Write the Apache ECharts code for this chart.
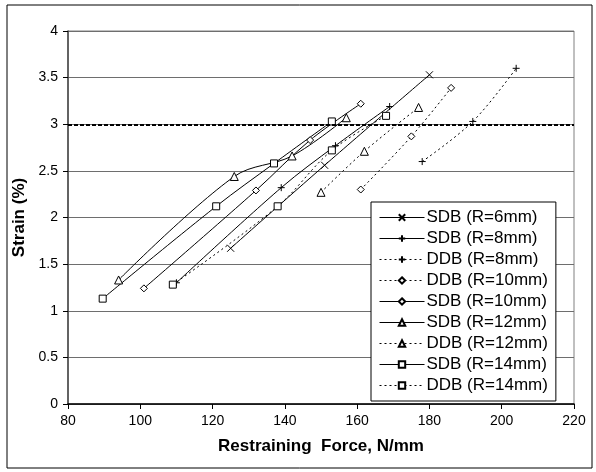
<!DOCTYPE html>
<html>
<head>
<meta charset="utf-8">
<script src="https://cdn.jsdelivr.net/npm/echarts@6/dist/echarts.min.js"></script>
<style>
  html, body { margin: 0; padding: 0; background: #fff; }
  #chart { width: 596px; height: 472px; }
</style>
</head>
<body>
<div id="chart"></div>
<script>
// [force N/mm, strain %]
const sdb6 = [[125, 1.67], [151, 2.56], [180, 3.53]];
const sdb8 = [[110, 1.30], [139, 2.32], [154, 2.77], [169, 3.19]];
const ddb8 = [[178, 2.60], [192, 3.03], [204, 3.60]];
const ddb10 = [[161, 2.30], [175, 2.87], [186, 3.39]];
const sdb10 = [[101, 1.24], [132, 2.29], [147, 2.83], [161, 3.22]];
const sdb12 = [[94, 1.33], [126, 2.44], [142, 2.66], [157, 3.07]];
const ddb12 = [[150, 2.27], [162, 2.71], [177, 3.18]];
const sdb14 = [[89.6, 1.13], [121, 2.12], [137, 2.58], [153, 3.03]];
const ddb14 = [[109, 1.28], [138, 2.12], [153, 2.72], [168, 3.09]];
const limitStrain = 3;

const CROSS = 'path://M0,0L10,10M0,10L10,0';
const PLUS = 'path://M5,0L5,10M0,5L10,5';
const FONT = 'Arial, "Liberation Sans", sans-serif';

function mk(name, data, symbol, dotted) {
  return {
    name: name,
    type: 'line',
    data: data,
    smooth: 0.35,
    symbol: symbol,
    symbolSize: symbol === 'triangle' ? 8 : 7,
    lineStyle: { color: '#000', width: 1, type: dotted ? [2, 3] : 'solid' },
    itemStyle: { color: '#fff', borderColor: '#000', borderWidth: 1 },
    emphasis: { disabled: true },
    z: 3
  };
}

const series = [
  mk('SDB (R=6mm)', sdb6, CROSS, false),
  mk('SDB (R=8mm)', sdb8, PLUS, false),
  mk('DDB (R=8mm)', ddb8, PLUS, true),
  mk('DDB (R=10mm)', ddb10, 'diamond', true),
  mk('SDB (R=10mm)', sdb10, 'diamond', false),
  mk('SDB (R=12mm)', sdb12, 'triangle', false),
  mk('DDB (R=12mm)', ddb12, 'triangle', true),
  mk('SDB (R=14mm)', sdb14, 'rect', false),
  mk('DDB (R=14mm)', ddb14, 'rect', true)
];

series[0].markLine = {
  silent: true,
  symbol: 'none',
  label: { show: false },
  lineStyle: { color: '#000', width: 2, type: [4, 2] },
  data: [{ yAxis: limitStrain }]
};

const chart = echarts.init(document.getElementById('chart'));
chart.setOption({
  animation: false,
  backgroundColor: '#fff',
  textStyle: { fontFamily: FONT },
  graphic: [{
    type: 'rect',
    shape: { x: 7, y: 5, width: 585, height: 463 },
    style: { fill: 'none', stroke: '#000', lineWidth: 1 },
    silent: true
  }],
  grid: { left: 68, right: 22, top: 31, bottom: 68, show: true, borderColor: '#808080', borderWidth: 1 },
  legend: {
    orient: 'vertical',
    left: 371,
    top: 202,
    padding: [7, 8, 7, 8],
    itemGap: 4,
    itemWidth: 45,
    itemHeight: 8,
    backgroundColor: '#fff',
    borderColor: '#000',
    borderWidth: 1,
    borderRadius: 0,
    lineStyle: { width: 1 },
    textStyle: { fontSize: 17, lineHeight: 17, color: '#000', fontFamily: FONT, padding: [0, 0, 0, -3] },
    data: series.map(s => s.name)
  },
  xAxis: {
    type: 'value',
    min: 80,
    max: 220,
    interval: 20,
    name: 'Restraining  Force, N/mm',
    nameLocation: 'middle',
    nameGap: 34,
    nameTextStyle: { fontSize: 17, fontWeight: 'bold', color: '#000', fontFamily: FONT },
    axisLine: { lineStyle: { color: '#000', width: 1.5 } },
    axisTick: { show: true, length: 5, lineStyle: { color: '#000' } },
    axisLabel: { fontSize: 14, color: '#000', margin: 10, fontFamily: FONT },
    splitLine: { show: false }
  },
  yAxis: {
    type: 'value',
    min: 0,
    max: 4,
    interval: 0.5,
    name: 'Strain (%)',
    nameLocation: 'middle',
    nameGap: 38,
    nameRotate: 90,
    nameTextStyle: { fontSize: 17, fontWeight: 'bold', color: '#000', fontFamily: FONT },
    axisLine: { show: true, lineStyle: { color: '#444', width: 1.5 } },
    axisTick: { show: true, length: 5, lineStyle: { color: '#000' } },
    axisLabel: { fontSize: 14, color: '#000', margin: 10, fontFamily: FONT },
    splitLine: { show: true, lineStyle: { color: '#6e6e6e', width: 1.2 } }
  },
  series: series
});
</script>
</body>
</html>
